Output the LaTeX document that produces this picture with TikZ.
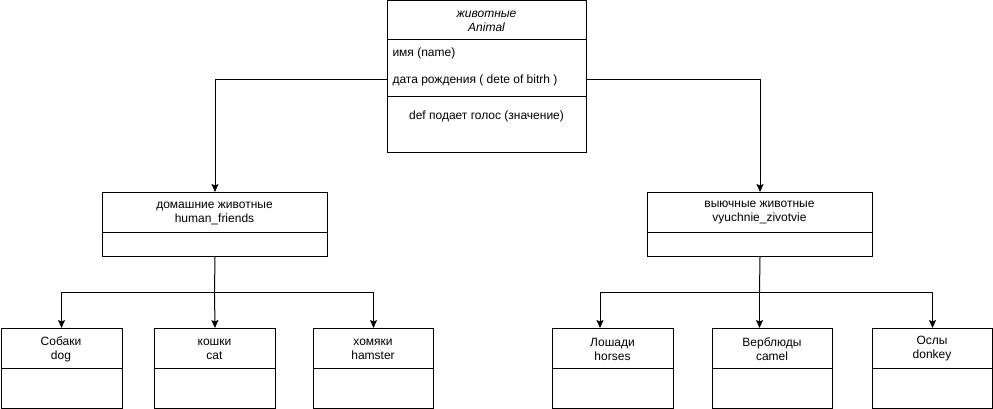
\documentclass[tikz,border=0pt]{standalone}
\usepackage{fontspec}
\setmainfont{Liberation Sans}
\usetikzlibrary{arrows.meta}
\begin{document}
\begin{tikzpicture}[x=1pt,y=-1pt,line width=1pt,
  font=\fontsize{12}{14}\selectfont,
  umlbox/.style 2 args={draw,rectangle,inner sep=0pt,anchor=north west,minimum width=#1,minimum height=#2},
  title/.style={align=center,inner sep=0pt},
  attr/.style={anchor=west,inner sep=0pt},
  divider/.style={line width=1pt},
  arr/.style={-{Stealth[length=8pt,width=7pt,inset=1.5pt]}}]
\useasboundingbox (0,0) rectangle (993,409);
% Animal
\node[umlbox={199pt}{152pt}] (animal) at (387,0.5) {};
\draw[divider] (387,40) -- (586,40);
\draw[divider] (387,97) -- (586,97);
\node[title,font=\fontsize{12}{14}\selectfont\itshape] (animalt) at (486.5,21) {животные\\Animal};
\node[attr] (attr1) at (392,53) {имя (name)};
\node[attr] (attr2) at (392,80) {дата рождения ( dete of bitrh )};
\node[title] (meth) at (486.5,116) {def подает голос (значение)};
% second level
\node[umlbox={225pt}{64pt}] (hf) at (102,192) {};
\draw[divider] (102,232) -- (327,232);
\node[title] (hft) at (214.5,213) {домашние животные\\human\_friends};
\node[umlbox={225pt}{64pt}] (vz) at (647,192) {};
\draw[divider] (647,232) -- (872,232);
\node[title] (vzt) at (759.5,213) {выючные животные\\vyuchnie\_zivotvie};
% third level
\node[umlbox={121pt}{80pt}] (dog) at (0.5,328) {};
\draw[divider] (0.5,368) -- (121.5,368);
\node[title] (dogt) at (61,349) {Собаки\\dog};
\node[umlbox={121pt}{80pt}] (cat) at (154,328) {};
\draw[divider] (154,368) -- (275,368);
\node[title] (catt) at (214.5,349) {кошки\\cat};
\node[umlbox={120pt}{80pt}] (ham) at (313,328) {};
\draw[divider] (313,368) -- (433,368);
\node[title] (hamt) at (373,349) {хомяки\\hamster};
\node[umlbox={121pt}{80pt}] (hor) at (552,328) {};
\draw[divider] (552,368) -- (673,368);
\node[title] (hort) at (612.5,349) {Лошади\\horses};
\node[umlbox={120pt}{80pt}] (cam) at (712,328) {};
\draw[divider] (712,368) -- (832,368);
\node[title] (camt) at (772,349) {Верблюды\\camel};
\node[umlbox={120pt}{80pt}] (don) at (872,328) {};
\draw[divider] (872,368) -- (992,368);
\node[title] (dont) at (932,349) {Ослы\\donkey};
% connectors
\draw[arr] (attr2 -| animal.west) -| (hf.north);
\draw[arr] (attr2 -| animal.east) -| (vz.north);
\coordinate (hfj) at (214.5,292);
\draw (hf.south) -- (hfj);
\draw[arr] (hfj) -| (dog.north);
\draw[arr] (hfj) -- (cat.north);
\draw[arr] (hfj) -| (ham.north);
\coordinate (vzj) at (759.5,292);
\draw (vz.south) -- (vzj);
\draw[arr] (vzj) -| ([xshift=48pt]hor.north west);
\draw[arr] (vzj) -- (vzj |- cam.north);
\draw[arr] (vzj) -| (don.north);
\end{tikzpicture}
\end{document}
